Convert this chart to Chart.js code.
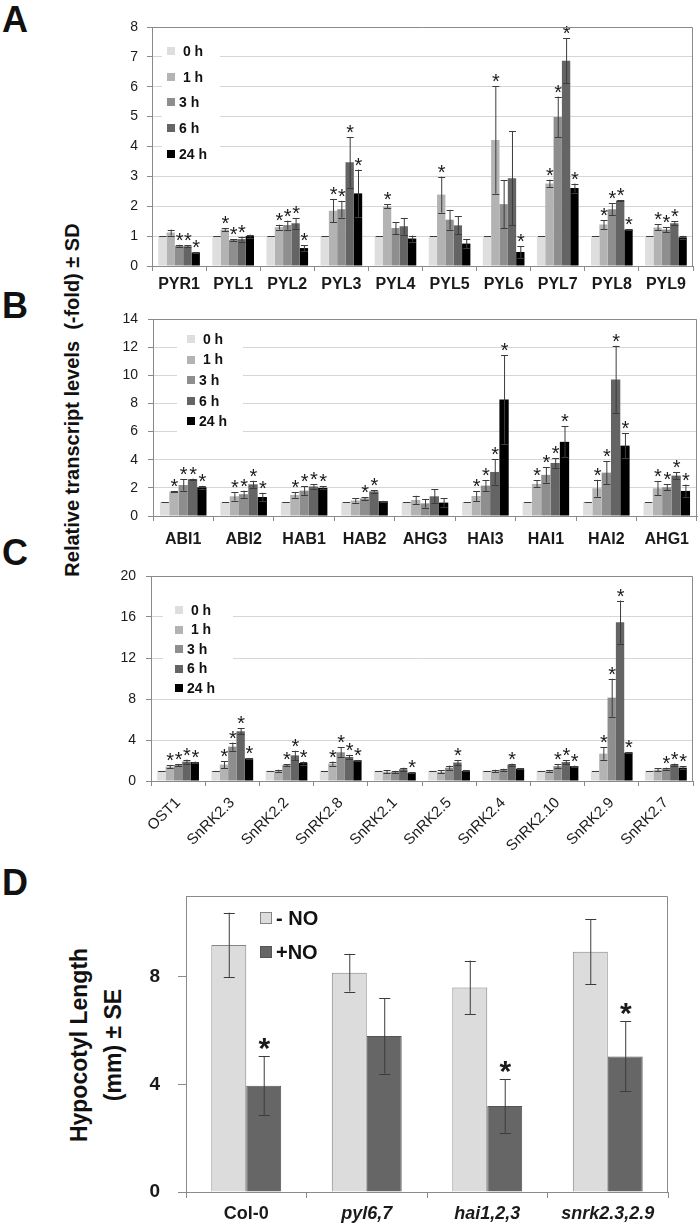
<!doctype html>
<html>
<head>
<meta charset="UTF-8">
<title>ABA signalling genes and NO</title>
<script src="https://cdn.jsdelivr.net/npm/chart.js@4.4.0/dist/chart.umd.min.js"></script>
<style>
  body { margin: 0; background: #fff; width: 700px; height: 1227px; position: relative; overflow: hidden;
         font-family: "Liberation Sans", Arial, sans-serif; color: #111; }
  canvas { position: absolute; left: 0; }
  .letter { position: absolute; left: 2px; font-weight: bold; font-size: 36px; line-height: 36px; }
  .ytitle { position: absolute; white-space: nowrap; font-weight: bold; text-align: center;
            transform: translate(-50%, -50%) rotate(-90deg); }
</style>
</head>
<body>
<div class="letter" style="top:2px">A</div>
<div class="letter" style="top:288px">B</div>
<div class="letter" style="top:535px">C</div>
<div class="letter" style="top:865px">D</div>
<div class="ytitle" style="left:72px; top:400px; font-size:20px;">Relative transcript levels&nbsp;&nbsp;(-fold) ± SD</div>
<div class="ytitle" style="left:96px; top:1045px; font-size:23px; line-height:34px;">Hypocotyl Length<br>(mm) ± SE</div>

<canvas id="chartA" width="700" height="300" style="top:0px"></canvas>
<canvas id="chartB" width="700" height="260" style="top:295px"></canvas>
<canvas id="chartC" width="700" height="305" style="top:555px"></canvas>
<canvas id="chartD" width="700" height="367" style="top:860px"></canvas>

<script>
// ---- data ----
var hours = [' 0 h', ' 1 h', '3 h', '6 h', '24 h'];

// A: PYR/PYL receptors
var aGenes = ['PYR1','PYL1','PYL2','PYL3','PYL4','PYL5','PYL6','PYL7','PYL8','PYL9'];
var aMeans = [
  [1, 1, 1, 1, 1, 1, 1, 1, 1, 1],
  [1.12, 1.22, 1.30, 1.85, 2.00, 2.39, 4.22, 2.76, 1.39, 1.29],
  [0.68, 0.87, 1.37, 1.90, 1.27, 1.55, 2.07, 4.99, 1.90, 1.22],
  [0.66, 0.90, 1.43, 3.47, 1.33, 1.36, 2.94, 6.87, 2.19, 1.43],
  [0.45, 1.00, 0.60, 2.43, 0.92, 0.75, 0.47, 2.61, 1.22, 0.96]
];
var aSD = [
  [0, 0, 0, 0, 0, 0, 0, 0, 0, 0],
  [0.10, 0.05, 0.08, 0.38, 0.07, 0.60, 1.80, 0.13, 0.15, 0.10],
  [0.03, 0.03, 0.15, 0.28, 0.20, 0.33, 0.80, 0.68, 0.20, 0.08],
  [0.03, 0.08, 0.18, 0.85, 0.28, 0.30, 1.58, 0.75, 0.02, 0.07],
  [0.02, 0.05, 0.10, 0.80, 0.10, 0.15, 0.20, 0.15, 0.02, 0.05]
];
var aStars = [
  [0, 0, 0, 0, 0, 0, 0, 0, 0, 0],
  [0, 1, 1, 1, 1, 1, 1, 1, 1, 1],
  [1, 1, 1, 1, 0, 0, 0, 1, 1, 1],
  [1, 1, 1, 1, 0, 0, 0, 1, 1, 1],
  [1, 0, 1, 1, 0, 0, 1, 1, 1, 0]
];

// B: PP2C phosphatases
var bGenes = ['ABI1','ABI2','HAB1','HAB2','AHG3','HAI3','HAI1','HAI2','AHG1'];
var bMeans = [
  [1, 1, 1, 1, 1, 1, 1, 1, 1],
  [1.73, 1.40, 1.50, 1.10, 1.14, 1.42, 2.28, 1.97, 1.97],
  [2.20, 1.55, 1.80, 1.25, 0.90, 2.16, 2.92, 3.08, 2.04],
  [2.61, 2.25, 2.10, 1.75, 1.40, 3.13, 3.77, 9.70, 2.87],
  [2.04, 1.35, 2.00, 1.05, 0.95, 8.28, 5.27, 5.00, 1.78]
];
var bSD = [
  [0, 0, 0, 0, 0, 0, 0, 0, 0],
  [0.05, 0.30, 0.20, 0.15, 0.30, 0.35, 0.25, 0.60, 0.50],
  [0.40, 0.25, 0.30, 0.10, 0.30, 0.40, 0.55, 0.80, 0.20],
  [0.05, 0.25, 0.15, 0.08, 0.50, 0.90, 0.35, 2.40, 0.25],
  [0.10, 0.30, 0.10, 0.03, 0.30, 3.15, 1.10, 0.90, 0.45]
];
var bStars = [
  [0, 0, 0, 0, 0, 0, 0, 0, 0],
  [1, 1, 1, 0, 0, 1, 1, 1, 1],
  [1, 1, 1, 1, 0, 1, 1, 1, 1],
  [1, 1, 1, 1, 0, 1, 1, 1, 1],
  [1, 1, 1, 0, 0, 1, 1, 1, 1]
];

// C: SnRK2 kinases
var cGenes = ['OST1','SnRK2.3','SnRK2.2','SnRK2.8','SnRK2.1','SnRK2.5','SnRK2.4','SnRK2.10','SnRK2.9','SnRK2.7'];
var cMeans = [
  [1, 1, 1, 1, 1, 1, 1, 1, 1, 1],
  [1.40, 1.60, 1.00, 1.70, 0.90, 0.90, 1.00, 1.00, 2.67, 1.10],
  [1.56, 3.35, 1.55, 2.80, 0.90, 1.30, 1.10, 1.45, 8.13, 1.20],
  [1.89, 4.85, 2.50, 2.35, 1.15, 1.80, 1.60, 1.85, 15.5, 1.60],
  [1.85, 2.20, 1.75, 2.00, 0.80, 0.98, 1.20, 1.45, 2.76, 1.30]
];
var cSD = [
  [0, 0, 0, 0, 0, 0, 0, 0, 0, 0],
  [0.15, 0.35, 0.10, 0.20, 0.15, 0.15, 0.10, 0.08, 0.60, 0.15],
  [0.10, 0.40, 0.10, 0.50, 0.10, 0.20, 0.10, 0.20, 1.85, 0.10],
  [0.20, 0.30, 0.45, 0.20, 0.15, 0.25, 0.10, 0.20, 2.10, 0.10],
  [0.05, 0.05, 0.15, 0.05, 0.05, 0.05, 0.05, 0.05, 0.05, 0.15]
];
var cStars = [
  [0, 0, 0, 0, 0, 0, 0, 0, 0, 0],
  [1, 1, 0, 1, 0, 0, 0, 0, 1, 0],
  [1, 1, 1, 1, 0, 0, 0, 1, 1, 1],
  [1, 1, 1, 1, 0, 1, 1, 1, 1, 1],
  [1, 1, 1, 1, 1, 0, 0, 1, 1, 1]
];

// D: hypocotyl length
var dLines = ['Col-0', 'pyl6,7', 'hai1,2,3', 'snrk2.3,2.9'];
var dTreat = ['- NO', '+NO'];
var dMeans = [
  [9.18, 8.15, 7.60, 8.93],
  [3.95, 5.80, 3.20, 5.04]
];
var dSE = [
  [1.20, 0.70, 1.00, 1.20],
  [1.10, 1.40, 1.00, 1.30]
];
var dStars = [
  [0, 0, 0, 0],
  [1, 0, 1, 1]
];

// ---- styling ----
var timeShades = ['#dedede', '#b3b3b3', '#8e8e8e', '#646464', '#000000'];
var noShades = ['#dcdcdc', '#666666'];
var noBorders = ['#858585', '#555555'];
var gridGray = '#d6d6d6';
var axisGray = '#8a8a8a';
var family = '"Liberation Sans", Arial, sans-serif';

Chart.defaults.font.family = family;
Chart.defaults.color = '#1a1a1a';

// error bars + significance asterisks
var errorBars = {
  id: 'errorBars',
  afterDatasetsDraw: function(chart, args, o) {
    var ctx = chart.ctx, y = chart.scales.y;
    ctx.save();
    chart.data.datasets.forEach(function(ds, i) {
      chart.getDatasetMeta(i).data.forEach(function(bar, j) {
        var v = ds.data[j], e = o.err[i][j];
        var top = y.getPixelForValue(v + e), bot = y.getPixelForValue(v - e);
        ctx.strokeStyle = o.color;
        ctx.lineWidth = 1;
        ctx.beginPath();
        ctx.moveTo(bar.x + 0.5, top); ctx.lineTo(bar.x + 0.5, bot);
        ctx.moveTo(bar.x - o.cap, Math.round(top) + 0.5); ctx.lineTo(bar.x + o.cap + 1, Math.round(top) + 0.5);
        ctx.moveTo(bar.x - o.cap, Math.round(bot) + 0.5); ctx.lineTo(bar.x + o.cap + 1, Math.round(bot) + 0.5);
        ctx.stroke();
        if (o.stars[i][j]) {
          ctx.fillStyle = '#1a1a1a';
          ctx.font = o.starFont;
          ctx.textAlign = 'center';
          ctx.textBaseline = 'alphabetic';
          ctx.fillText('*', bar.x + 0.5, Math.min(top, bar.y) + o.starShift);
        }
      });
    });
    ctx.restore();
  }
};

// legend boxes inside the plot area
var boxLegend = {
  id: 'boxLegend',
  afterDatasetsDraw: function(chart, args, o) {
    var ctx = chart.ctx, a = chart.chartArea;
    ctx.save();
    if (o.clear) {
      ctx.fillStyle = '#fff';
      ctx.fillRect(a.left + o.clear[0], a.top + o.clear[1], o.clear[2], o.clear[3]);
    }
    chart.data.datasets.forEach(function(ds, i) {
      var cy = a.top + o.y0 + i * o.step;
      var bx = a.left + o.x0;
      ctx.fillStyle = ds.backgroundColor;
      ctx.fillRect(bx, Math.round(cy - o.box / 2), o.box, o.box);
      if (ds.borderWidth) {
        ctx.strokeStyle = ds.borderColor;
        ctx.lineWidth = 1;
        ctx.strokeRect(bx + 0.5, Math.round(cy - o.box / 2) + 0.5, o.box - 1, o.box - 1);
      }
      ctx.fillStyle = '#111';
      ctx.font = o.font;
      ctx.textAlign = 'left';
      ctx.textBaseline = 'middle';
      ctx.fillText(ds.label, bx + o.box + o.gap, cy + 1);
    });
    ctx.restore();
  }
};

// top and right frame of the plot area
var frame = {
  id: 'frame',
  afterDraw: function(chart) {
    var ctx = chart.ctx, a = chart.chartArea;
    ctx.save();
    ctx.strokeStyle = axisGray;
    ctx.lineWidth = 1;
    ctx.beginPath();
    ctx.moveTo(Math.round(a.left) + 0.5, Math.round(a.top) + 0.5);
    ctx.lineTo(Math.round(a.right) - 0.5, Math.round(a.top) + 0.5);
    ctx.lineTo(Math.round(a.right) - 0.5, Math.round(a.bottom));
    ctx.stroke();
    ctx.restore();
  }
};

function drawPanel(id, o) {
  var datasets = o.means.map(function(m, i) {
    return {
      label: o.names[i], data: m,
      backgroundColor: o.colors[i],
      borderColor: o.borders ? o.borders[i] : o.colors[i],
      borderWidth: o.borders ? 1 : 0,
      categoryPercentage: o.catPct, barPercentage: 1
    };
  });
  return new Chart(document.getElementById(id), {
    type: 'bar',
    data: { labels: o.labels, datasets: datasets },
    options: {
      responsive: false, animation: false, devicePixelRatio: 1,
      layout: { padding: { top: o.top, right: o.right, left: 0, bottom: 0 } },
      plugins: {
        legend: { display: false },
        tooltip: { enabled: false },
        errorBars: { err: o.err, stars: o.stars, color: '#3c3c3c', cap: o.cap, starFont: o.starFont, starShift: o.starShift },
        boxLegend: o.legend
      },
      scales: {
        x: {
          grid: { offset: true, drawOnChartArea: false, color: axisGray, tickLength: o.xTick },
          border: { color: axisGray },
          ticks: Object.assign({ padding: o.xPad, autoSkip: false }, o.xTicks),
          afterFit: function(s) { s.height = o.xh; }
        },
        y: {
          min: 0, max: o.max,
          grid: { display: true, drawOnChartArea: o.gridOn, color: gridGray, tickColor: axisGray, tickLength: o.yTick },
          border: { color: axisGray },
          ticks: { stepSize: o.step, padding: o.yPad, font: o.yFont, color: '#1a1a1a' },
          afterBuildTicks: function(s) {
            s.ticks = s.ticks.filter(function(t) { return t.value % o.step === 0; });
          },
          afterFit: function(s) { s.width = o.left; }
        }
      }
    },
    plugins: [errorBars, boxLegend, frame]
  });
}

drawPanel('chartA', {
  labels: aGenes, names: hours, colors: timeShades, means: aMeans, err: aSD, stars: aStars,
  catPct: 0.77, max: 8, step: 1, left: 152, right: 7, top: 27, xh: 34, gridOn: true,
  xTick: 5, xPad: 4, yTick: 5, yPad: 9, cap: 3,
  starFont: '20px ' + family, starShift: 2,
  yFont: { size: 14 },
  xTicks: { font: { size: 16, weight: 'bold' }, maxRotation: 0 },
  legend: { x0: 15, y0: 24, step: 25.7, box: 8, gap: 4, font: 'bold 14px ' + family, clear: [10, 8, 58, 132] }
});

drawPanel('chartB', {
  labels: bGenes, names: hours, colors: timeShades, means: bMeans, err: bSD, stars: bStars,
  catPct: 0.77, max: 14, step: 2, left: 153, right: 3, top: 24, xh: 39, gridOn: true,
  xTick: 5, xPad: 9, yTick: 5, yPad: 10, cap: 3,
  starFont: '20px ' + family, starShift: 2,
  yFont: { size: 14 },
  xTicks: { font: { size: 16, weight: 'bold' }, maxRotation: 0 },
  legend: { x0: 34, y0: 20, step: 20.6, box: 8, gap: 4, font: 'bold 14px ' + family, clear: [24, 8, 66, 112] }
});

drawPanel('chartC', {
  labels: cGenes, names: hours, colors: timeShades, means: cMeans, err: cSD, stars: cStars,
  catPct: 0.77, max: 20, step: 4, left: 151, right: 7, top: 21, xh: 79, gridOn: true,
  xTick: 5, xPad: 8, yTick: 5, yPad: 10, cap: 3,
  starFont: '20px ' + family, starShift: 2,
  yFont: { size: 14 },
  xTicks: { font: { size: 15 }, minRotation: 45, maxRotation: 45 },
  legend: { x0: 24, y0: 34, step: 19.5, box: 8, gap: 4, font: 'bold 14px ' + family, clear: [12, 24, 70, 96] }
});

drawPanel('chartD', {
  labels: dLines, names: dTreat, colors: noShades, borders: noBorders, means: dMeans, err: dSE, stars: dStars,
  catPct: 0.58, max: 11, step: 4, left: 186, right: 32, top: 36, xh: 35, gridOn: false,
  xTick: 6, xPad: 5, yTick: 8, yPad: 18, cap: 5,
  starFont: 'bold 30px ' + family, starShift: 2,
  yFont: { size: 19, weight: 'bold' },
  xTicks: {
    maxRotation: 0,
    font: function(c) { return { size: 18, weight: 'bold', style: c.index === 0 ? 'normal' : 'italic' }; }
  },
  legend: { x0: 74, y0: 22, step: 34, box: 12, gap: 4, font: 'bold 20px ' + family }
});
</script>
</body>
</html>
